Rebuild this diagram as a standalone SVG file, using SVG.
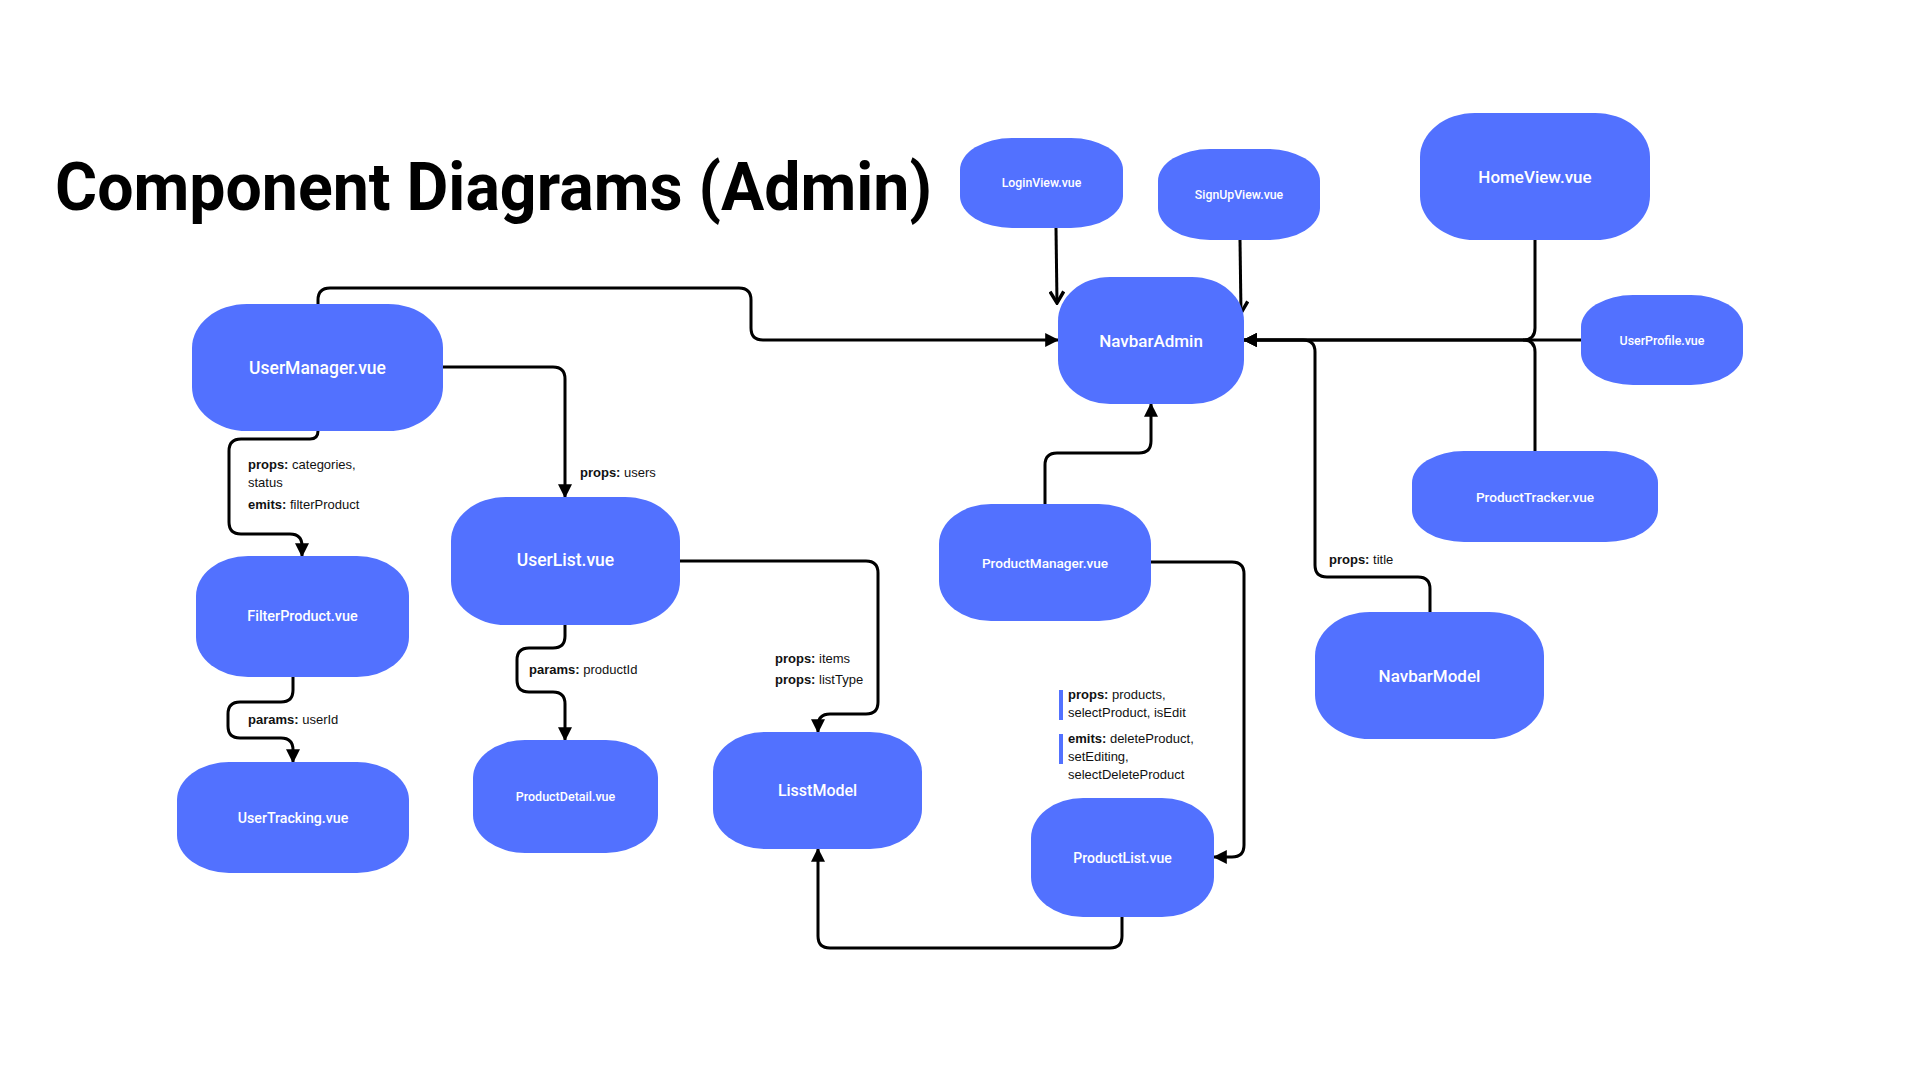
<svg xmlns="http://www.w3.org/2000/svg" width="1920" height="1080" viewBox="0 0 1920 1080">
<style>
.node rect{fill:#5271FF}
.node text{fill:#FFFFFF;font-family:Roboto,"Liberation Sans",sans-serif;font-weight:500;text-anchor:middle;dominant-baseline:central}
.edges path{fill:none;stroke:#000;stroke-width:3;stroke-linejoin:round}
.lbl{font-family:"Liberation Sans",Arial,sans-serif;font-size:13px;fill:#111}
.lbl .k{font-weight:bold}
.bar{fill:#5271FF}
.title{font-family:Roboto,"Liberation Sans",sans-serif;font-weight:700;font-size:67px;fill:#000}
</style>
<defs>
<marker id="arr" markerUnits="userSpaceOnUse" markerWidth="14" markerHeight="14" viewBox="0 0 12 12" refX="11" refY="6" orient="auto">
<path d="M0,0 L12,6 L0,12 z" fill="#000"/>
</marker>
<marker id="chev" markerUnits="userSpaceOnUse" markerWidth="16" markerHeight="16" viewBox="0 0 14 14" refX="12" refY="7" orient="auto">
<path d="M2,1 L12,7 L2,13" fill="none" stroke="#000" stroke-width="3"/>
</marker>
</defs>
<rect width="1920" height="1080" fill="#FFFFFF"/>
<text class="title" x="55" y="210" textLength="877" lengthAdjust="spacingAndGlyphs">Component Diagrams (Admin)</text>

<g class="edges">
<path d="M318,304 V300 Q318,288 330,288 H739 Q751,288 751,300 V328 Q751,340 763,340 H1058" marker-end="url(#arr)"/>
<path d="M443,367 H553 Q565,367 565,379 V497" marker-end="url(#arr)"/>
<path d="M318,431 Q318,439 310,439 H241 Q229,439 229,451 V522 Q229,534 241,534 H290 Q302,534 302,546 V556" marker-end="url(#arr)"/>
<path d="M293,677 V690 Q293,702 281,702 H240 Q228,702 228,714 V726 Q228,738 240,738 H281 Q293,738 293,750 V762" marker-end="url(#arr)"/>
<path d="M565,625 V636 Q565,648 553,648 H529 Q517,648 517,660 V680 Q517,692 529,692 H553 Q565,692 565,704 V740" marker-end="url(#arr)"/>
<path d="M680,561 H866 Q878,561 878,573 V702 Q878,714 866,714 H830 Q818,714 818,726 V732" marker-end="url(#arr)"/>
<path d="M1122,917 V936 Q1122,948 1110,948 H830 Q818,948 818,936 V849" marker-end="url(#arr)"/>
<path d="M1151,562 H1232 Q1244,562 1244,574 V845 Q1244,857 1232,857 H1214" marker-end="url(#arr)"/>
<path d="M1045,504 V465 Q1045,453 1057,453 H1139 Q1151,453 1151,441 V404" marker-end="url(#arr)"/>
<path d="M1056,228 L1057,303" marker-end="url(#chev)"/>
<path d="M1240,240 L1241,313" marker-end="url(#chev)"/>
<path d="M1535,240 V328 Q1535,340 1523,340 H1244" marker-end="url(#arr)"/>
<path d="M1535,451 V352 Q1535,340 1523,340"/>
<path d="M1581,340 H1244" marker-end="url(#arr)"/>
<path d="M1430,613 V589 Q1430,577 1418,577 H1327 Q1315,577 1315,565 V352 Q1315,340 1303,340 H1244" marker-end="url(#arr)"/>
</g>

<g id="labels">
<text class="lbl" x="248" y="469"><tspan class="k">props:</tspan> categories,</text>
<text class="lbl" x="248" y="487">status</text>
<text class="lbl" x="248" y="509"><tspan class="k">emits:</tspan> filterProduct</text>
<text class="lbl" x="580" y="477"><tspan class="k">props:</tspan> users</text>
<text class="lbl" x="248" y="724"><tspan class="k">params:</tspan> userId</text>
<text class="lbl" x="529" y="674"><tspan class="k">params:</tspan> productId</text>
<text class="lbl" x="775" y="663"><tspan class="k">props:</tspan> items</text>
<text class="lbl" x="775" y="684"><tspan class="k">props:</tspan> listType</text>
<rect class="bar" x="1059" y="690" width="4" height="30"/>
<text class="lbl" x="1068" y="699"><tspan class="k">props:</tspan> products,</text>
<text class="lbl" x="1068" y="717">selectProduct, isEdit</text>
<rect class="bar" x="1059" y="734" width="4" height="30"/>
<text class="lbl" x="1068" y="743"><tspan class="k">emits:</tspan> deleteProduct,</text>
<text class="lbl" x="1068" y="761">setEditing,</text>
<text class="lbl" x="1068" y="779">selectDeleteProduct</text>
<text class="lbl" x="1329" y="564"><tspan class="k">props:</tspan> title</text>
</g>

<g id="LoginView" class="node"><rect x="960" y="138" width="163" height="90" rx="52" ry="32"/><text x="1041.5" y="183" font-size="12.3">LoginView.vue</text></g>
<g id="SignUpView" class="node"><rect x="1158" y="149" width="162" height="91" rx="52" ry="32"/><text x="1239" y="194.5" font-size="12.3">SignUpView.vue</text></g>
<g id="HomeView" class="node"><rect x="1420" y="113" width="230" height="127" rx="55" ry="44"/><text x="1535" y="176.5" font-size="17">HomeView.vue</text></g>
<g id="NavbarAdmin" class="node"><rect x="1058" y="277" width="186" height="127" rx="52" ry="44"/><text x="1151" y="340.5" font-size="17">NavbarAdmin</text></g>
<g id="UserProfile" class="node"><rect x="1581" y="295" width="162" height="90" rx="52" ry="32"/><text x="1662" y="340" font-size="12.4">UserProfile.vue</text></g>
<g id="ProductTracker" class="node"><rect x="1412" y="451" width="246" height="91" rx="52" ry="32"/><text x="1535" y="496.5" font-size="13.6">ProductTracker.vue</text></g>
<g id="NavbarModel" class="node"><rect x="1315" y="612" width="229" height="127" rx="55" ry="44"/><text x="1429.5" y="675.5" font-size="17">NavbarModel</text></g>
<g id="ProductManager" class="node"><rect x="939" y="504" width="212" height="117" rx="52" ry="40"/><text x="1045" y="562.5" font-size="13.6">ProductManager.vue</text></g>
<g id="ProductList" class="node"><rect x="1031" y="798" width="183" height="119" rx="52" ry="40"/><text x="1122.5" y="857.5" font-size="14">ProductList.vue</text></g>
<g id="LisstModel" class="node"><rect x="713" y="732" width="209" height="117" rx="52" ry="40"/><text x="817.5" y="790.5" font-size="16">LisstModel</text></g>
<g id="ProductDetail" class="node"><rect x="473" y="740" width="185" height="113" rx="52" ry="38"/><text x="565.5" y="796.5" font-size="12.5">ProductDetail.vue</text></g>
<g id="UserList" class="node"><rect x="451" y="497" width="229" height="128" rx="55" ry="44"/><text x="565.5" y="560" font-size="17.5">UserList.vue</text></g>
<g id="UserManager" class="node"><rect x="192" y="304" width="251" height="127" rx="55" ry="44"/><text x="317.5" y="367.5" font-size="17.5">UserManager.vue</text></g>
<g id="FilterProduct" class="node"><rect x="196" y="556" width="213" height="121" rx="52" ry="40"/><text x="302.5" y="616.5" font-size="14.4">FilterProduct.vue</text></g>
<g id="UserTracking" class="node"><rect x="177" y="762" width="232" height="111" rx="52" ry="38"/><text x="293" y="817.5" font-size="14.2">UserTracking.vue</text></g>
</svg>
